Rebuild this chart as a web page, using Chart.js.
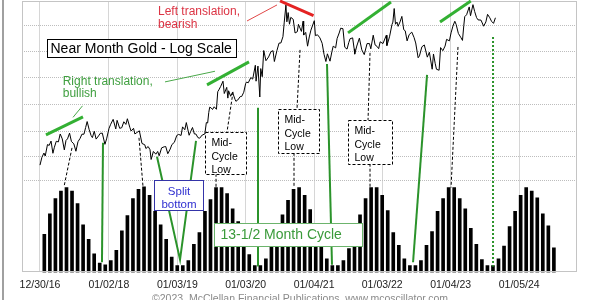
<!DOCTYPE html>
<html>
<head>
<meta charset="utf-8">
<script src="https://cdn.jsdelivr.net/npm/chart.js@4"></script>
<style>
  html, body { margin: 0; padding: 0; background: #fff; }
  #wrap { position: relative; width: 600px; height: 300px; }
  #edge { position: absolute; left: 2px; top: 0; width: 2px; height: 300px; background: #a0a0a0; }
</style>
</head>
<body>
<div id="wrap"><canvas id="chart" width="600" height="300"></canvas><div id="edge"></div></div>
<script>
// x axis ticks
const tickDates = ['2016-12-30', '2018-01-02', '2019-01-03', '2020-01-03', '2021-01-04', '2022-01-03', '2023-01-04', '2024-01-05'];
const tickLabels = ['12/30/16', '01/02/18', '01/03/19', '01/03/20', '01/04/21', '01/03/22', '01/04/23', '01/05/24'];

// near month gold
const goldDates = [
  '2016-12-30', '2017-01-09', '2017-01-20', '2017-01-27', '2017-02-08', '2017-02-17', '2017-02-27', '2017-03-09', '2017-03-17', '2017-03-27',
  '2017-04-07', '2017-04-17', '2017-04-28', '2017-05-09', '2017-05-18', '2017-05-26', '2017-06-06', '2017-06-16', '2017-06-29', '2017-07-10',
  '2017-07-21', '2017-08-01', '2017-08-11', '2017-08-22', '2017-08-31', '2017-09-08', '2017-09-19', '2017-09-29', '2017-10-06', '2017-10-16',
  '2017-10-26', '2017-11-08', '2017-11-17', '2017-11-28', '2017-12-12', '2017-12-21',
  '2018-01-03', '2018-01-12', '2018-01-25', '2018-02-08', '2018-02-15', '2018-03-01', '2018-03-12', '2018-03-23', '2018-04-03', '2018-04-11',
  '2018-04-24', '2018-05-01', '2018-05-14', '2018-05-21', '2018-06-01', '2018-06-14', '2018-06-28', '2018-07-13', '2018-07-19', '2018-07-31',
  '2018-08-10', '2018-08-16', '2018-08-28', '2018-09-10', '2018-09-20', '2018-09-28', '2018-10-11', '2018-10-25', '2018-11-02', '2018-11-13',
  '2018-11-26', '2018-12-05', '2018-12-18', '2018-12-31',
  '2019-01-10', '2019-01-23', '2019-01-31', '2019-02-12', '2019-02-20', '2019-03-07', '2019-03-15', '2019-03-25', '2019-04-04', '2019-04-12',
  '2019-04-23', '2019-05-02', '2019-05-16', '2019-05-30', '2019-06-07', '2019-06-14', '2019-06-20', '2019-06-25', '2019-07-03', '2019-07-10',
  '2019-07-19', '2019-07-31', '2019-08-07', '2019-08-13', '2019-08-23', '2019-09-04', '2019-09-11', '2019-09-24', '2019-09-30', '2019-10-04',
  '2019-10-15', '2019-10-25', '2019-11-07', '2019-11-12', '2019-11-22', '2019-12-05', '2019-12-13', '2019-12-24',
  '2020-01-03', '2020-01-08', '2020-01-17', '2020-01-31', '2020-02-10', '2020-02-24', '2020-02-28', '2020-03-09', '2020-03-19', '2020-03-24',
  '2020-04-01', '2020-04-09', '2020-04-21', '2020-05-05', '2020-05-18', '2020-05-29', '2020-06-05', '2020-06-19', '2020-06-30', '2020-07-10',
  '2020-07-21', '2020-07-28', '2020-08-06', '2020-08-11', '2020-08-18', '2020-08-25', '2020-09-01', '2020-09-14', '2020-09-24', '2020-10-06',
  '2020-10-12', '2020-10-28', '2020-11-06', '2020-11-09', '2020-11-20', '2020-11-30', '2020-12-09', '2020-12-18',
  '2021-01-05', '2021-01-11', '2021-01-22', '2021-02-04', '2021-02-16', '2021-02-26', '2021-03-08', '2021-03-16', '2021-03-30', '2021-04-09',
  '2021-04-16', '2021-04-29', '2021-05-07', '2021-05-18', '2021-05-26', '2021-06-07', '2021-06-17', '2021-06-29', '2021-07-08', '2021-07-15',
  '2021-07-29', '2021-08-06', '2021-08-09', '2021-08-20', '2021-09-03', '2021-09-16', '2021-09-29', '2021-10-14', '2021-10-27', '2021-11-03',
  '2021-11-16', '2021-11-26', '2021-12-06', '2021-12-15', '2021-12-23',
  '2022-01-07', '2022-01-25', '2022-01-28', '2022-02-11', '2022-02-24', '2022-03-01', '2022-03-08', '2022-03-15', '2022-03-23', '2022-03-29',
  '2022-04-08', '2022-04-18', '2022-04-28', '2022-05-06', '2022-05-16', '2022-05-27', '2022-06-10', '2022-06-22', '2022-07-01', '2022-07-14',
  '2022-07-21', '2022-08-03', '2022-08-16', '2022-09-01', '2022-09-12', '2022-09-27', '2022-10-04', '2022-10-13', '2022-10-20', '2022-11-03',
  '2022-11-11', '2022-11-23', '2022-12-05', '2022-12-13', '2022-12-28',
  '2023-01-06', '2023-01-16', '2023-01-26', '2023-02-02', '2023-02-14', '2023-02-28', '2023-03-08', '2023-03-15', '2023-03-20', '2023-03-30',
  '2023-04-13', '2023-04-20', '2023-05-03', '2023-05-12', '2023-05-22', '2023-05-30', '2023-06-15', '2023-06-29', '2023-07-11', '2023-07-20',
  '2023-08-01', '2023-08-10', '2023-08-21', '2023-08-31'
];
const goldPrices = [
  1152, 1185, 1204, 1191, 1242, 1238, 1258, 1203, 1230, 1257,
  1254, 1291, 1268, 1218, 1261, 1268, 1295, 1256, 1245, 1212,
  1255, 1270, 1290, 1290, 1322, 1351, 1311, 1284, 1274, 1304,
  1267, 1282, 1294, 1295, 1243, 1268,
  1318, 1338, 1362, 1315, 1357, 1318, 1321, 1350, 1337, 1365,
  1323, 1305, 1318, 1291, 1298, 1306, 1247, 1241, 1224, 1233,
  1219, 1176, 1211, 1199, 1211, 1192, 1227, 1232, 1233, 1201,
  1222, 1242, 1252, 1284,
  1289, 1284, 1325, 1311, 1346, 1285, 1302, 1322, 1291, 1291,
  1274, 1271, 1286, 1291, 1346, 1344, 1397, 1424, 1420, 1412,
  1426, 1413, 1507, 1517, 1537, 1566, 1497, 1531, 1472, 1512,
  1482, 1504, 1466, 1455, 1462, 1480, 1481, 1504,
  1552, 1561, 1557, 1587, 1578, 1660, 1566, 1655, 1478, 1640,
  1592, 1752, 1688, 1711, 1745, 1751, 1683, 1753, 1800, 1801,
  1843, 1944, 2069, 1946, 2013, 1929, 1978, 1964, 1868, 1877,
  1928, 1879, 1951, 1854, 1872, 1780, 1841, 1888,
  1954, 1850, 1856, 1835, 1799, 1728, 1683, 1731, 1685, 1744,
  1780, 1769, 1831, 1868, 1901, 1898, 1773, 1761, 1803, 1829,
  1835, 1763, 1729, 1781, 1833, 1756, 1726, 1797, 1797, 1763,
  1853, 1788, 1779, 1764, 1809,
  1797, 1853, 1784, 1842, 1926, 1944, 2043, 1929, 1944, 1914,
  1945, 1985, 1891, 1883, 1815, 1857, 1874, 1838, 1801, 1706,
  1718, 1776, 1788, 1710, 1741, 1636, 1730, 1672, 1636, 1630,
  1771, 1751, 1781, 1825, 1815,
  1869, 1916, 1950, 1928, 1865, 1836, 1818, 1919, 1983, 1997,
  2055, 1990, 2072, 2021, 1977, 1960, 1958, 1915, 1945, 2000,
  1975, 1950, 1935, 1975
];

// 13-1/2 month cycle bars, one per month
const cycleStart = 2017.058;
const cycleStep = 0.0811;
const cycleValues = [
  45, 69, 87, 96, 100, 96, 81, 56, 39, 22, 11, 9, 14, 26, 49, 67, 87, 98, 101, 91,
  72, 56, 39, 18, 8, 8, 14, 33, 47, 72, 86, 100, 100, 93, 75, 60, 40, 21, 8, 8,
  16, 31, 49, 68, 85, 98, 100, 91, 74, 58, 38, 16, 8, 8, 14, 28, 47, 68, 87, 100,
  100, 91, 73, 47, 32, 16, 8, 8, 14, 32, 48, 72, 87, 100, 100, 87, 75, 52, 33, 15,
  8, 8, 16, 31, 54, 72, 91, 100, 96, 88, 69, 55, 29
];

// horizontal grid lines of the log price panel
const priceGrid = [1088, 1190, 1305, 1440, 1585, 1745, 1918];

// annotations: [year, price] or [year, null, cycle value]
const trendLines = [
  [[2017.082, 1287], [2017.624, 1374]],
  [[2019.440, 1545], [2020.055, 1681]],
  [[2021.505, 1869], [2022.134, 2093]],
  [[2022.852, 1945], [2023.302, 2100]]
];
const bearLine = [[2020.509, 2100], [2021.000, 1990]];
const cycleLows = [
  [[2017.917, 1250], [2017.902, null, 12]],
  [[2018.708, 1188], [2019.045, null, 15], [2019.279, 1259]],
  [[2020.187, 1421], [2020.187, null, 7]],
  [[2021.197, 1668], [2021.270, null, 9]],
  [[2022.662, 1603], [2022.457, null, 12]]
];
const nextLow = [[2023.628, 1841], [2023.628, null, 7]];
const midLines = [
  [[2017.463, 1227], [2017.346, null, 101]],
  [[2018.444, 1273], [2018.503, null, 101]],
  [[2019.821, 1506], [2019.733, 1301]], [[2019.572, 1116], [2019.572, null, 100]],
  [[2020.802, 1756], [2020.758, 1415]], [[2020.714, 1205], [2020.714, null, 100]],
  [[2021.827, 1737], [2021.798, 1359]], [[2021.827, 1158], [2021.827, null, 100]],
  [[2023.115, 1775], [2023.013, null, 100]]
];
const midBoxes = [
  [[2019.411, 1301], [2020.011, 1116]],
  [[2020.480, 1415], [2021.080, 1205]],
  [[2021.505, 1359], [2022.149, 1158]]
];
const redPointer = [[2020.026, 1952], [2020.465, 2070]];
const greenPointers = [
  [[2017.478, 1372], [2017.617, 1431]],
  [[2018.825, 1562], [2019.557, 1624]]
];
const titleBox = [[2017.097, 1828], [2019.865, 1711]];
const splitBox = [[2018.664, null, 109], [2019.381, null, 73]];
const cycleBox = [[2019.542, null, 58], [2021.710, null, 31]];
const leftNote = [2018.722, 2021];
const rightNote = [2017.327, 1562];

const FONT = "'Liberation Sans', Arial, sans-serif";

function toYear(s) {
  const [y, m, d] = s.split('-').map(Number);
  const a = Date.UTC(y, 0, 1), b = Date.UTC(y + 1, 0, 1);
  return y + (Date.UTC(y, m - 1, d) - a) / (b - a);
}

const tickYears = tickDates.map(toYear);
const goldPoints = goldDates.map((d, i) => ({ x: toYear(d), y: goldPrices[i] }));
const cyclePoints = cycleValues.map((v, i) => ({ x: cycleStart + i * cycleStep, y: v }));

const notes = {
  id: 'notes',
  afterDatasetsDraw(chart) {
    const { ctx, chartArea: area, scales } = chart;
    const P = (pt) => [scales.x.getPixelForValue(pt[0]), pt.length > 2 ? scales.y2.getPixelForValue(pt[2]) : scales.y.getPixelForValue(pt[1])];
    const path = (pts, color, width, dash) => {
      ctx.save();
      ctx.strokeStyle = color; ctx.lineWidth = width; ctx.setLineDash(dash || []);
      ctx.beginPath();
      pts.forEach((p, i) => { const [x, y] = P(p); i ? ctx.lineTo(x, y) : ctx.moveTo(x, y); });
      ctx.stroke();
      ctx.restore();
    };
    const box = (b, stroke, dash) => {
      const [x1, y1] = P(b[0]), [x2, y2] = P(b[1]);
      const l = Math.round(x1) + 0.5, t = Math.round(y1) + 0.5, r = Math.round(x2) + 0.5, bt = Math.round(y2) + 0.5;
      ctx.save();
      ctx.fillStyle = '#fff'; ctx.fillRect(l, t, r - l, bt - t);
      ctx.strokeStyle = stroke; ctx.lineWidth = 1; ctx.setLineDash(dash || []);
      ctx.strokeRect(l, t, r - l, bt - t);
      ctx.restore();
      return { l, t, r, b: bt };
    };
    const text = (str, x, y, color, size, align) => {
      ctx.save();
      ctx.fillStyle = color; ctx.font = size + 'px ' + FONT;
      ctx.textAlign = align || 'left'; ctx.textBaseline = 'middle';
      ctx.fillText(str, x, y);
      ctx.restore();
    };

    // frame of the plot
    ctx.save();
    ctx.strokeStyle = '#c4c4c4'; ctx.lineWidth = 1;
    ctx.strokeRect(Math.round(area.left) + 0.5, Math.round(area.top) + 0.5, Math.round(area.right - area.left), Math.round(area.bottom - area.top) - 1);
    ctx.restore();

    cycleLows.forEach((l) => path(l, '#2b932b', 2));
    path(nextLow, '#2b932b', 2, [2, 2]);
    midLines.forEach((l) => path(l, '#000', 1, [3, 2]));
    trendLines.forEach((l) => path(l, '#33b033', 3));
    path(bearLine, '#e42222', 3);
    path(redPointer, '#e04848', 1);
    greenPointers.forEach((l) => path(l, '#4aa84a', 1));

    const t = box(titleBox, '#000');
    text('Near Month Gold - Log Scale', t.l + 3, (t.t + t.b) / 2 + 0.5, '#000', 14);

    midBoxes.forEach((b) => {
      const m = box(b, '#000', [3, 2]);
      text('Mid-', m.l + 6, m.t + 11, '#000', 10.5);
      text('Cycle', m.l + 6, m.t + 24.5, '#000', 10.5);
      text('Low', m.l + 6, m.t + 37.5, '#000', 10.5);
    });

    const s = box(splitBox, '#3434a8');
    text('Split', (s.l + s.r) / 2, s.t + 11, '#2f2fd0', 11.5, 'center');
    text('bottom', (s.l + s.r) / 2, s.t + 24, '#2f2fd0', 11.5, 'center');

    const c = box(cycleBox, '#6cb46c');
    text('13-1/2 Month Cycle', c.l + 6, (c.t + c.b) / 2 + 0.5, '#3a9a3a', 14);

    const [lx, ly] = P(leftNote);
    text('Left translation,', lx, ly, '#dc3444', 12);
    text('bearish', lx, ly + 13, '#dc3444', 12);
    const [rx, ry] = P(rightNote);
    text('Right translation,', rx, ry, '#3f9f3f', 12);
    text('bullish', rx, ry + 12, '#3f9f3f', 12);

    ctx.save();
    ctx.fillStyle = '#8a8a8a'; ctx.font = '10.5px ' + FONT;
    ctx.textAlign = 'center'; ctx.textBaseline = 'alphabetic';
    ctx.fillText('\u00a92023, McClellan Financial Publications, www.mcoscillator.com', 300, 302);
    ctx.restore();
  }
};

new Chart(document.getElementById('chart'), {
  type: 'bar',
  data: {
    datasets: [
      { type: 'line', data: goldPoints, yAxisID: 'y', borderColor: '#000', borderWidth: 1, pointRadius: 0, tension: 0, order: 1 },
      { type: 'bar', data: cyclePoints, yAxisID: 'y2', backgroundColor: '#000', barThickness: 3, order: 2 }
    ]
  },
  options: {
    responsive: false,
    animation: false,
    events: [],
    layout: { padding: { left: 22, right: 24, top: 1, bottom: 3 } },
    plugins: { legend: { display: false }, tooltip: { enabled: false } },
    scales: {
      x: {
        type: 'linear', offset: false, min: 2016.731, max: 2024.843,
        afterBuildTicks: (axis) => { axis.ticks = tickYears.map((v) => ({ value: v })); },
        ticks: { autoSkip: false, maxRotation: 0, padding: 6, color: '#222', font: { family: FONT, size: 10.5 }, callback: (v, i) => tickLabels[i] },
        grid: { color: '#d6d6d6', drawTicks: false, offset: false },
        border: { display: false }
      },
      y: {
        type: 'logarithmic', min: 778, max: 2100,
        afterBuildTicks: (axis) => { axis.ticks = priceGrid.map((v) => ({ value: v })); },
        ticks: { display: false },
        grid: { color: '#bdbdbd', drawTicks: false },
        border: { display: false, dash: [1, 1] }
      },
      y2: { type: 'linear', display: false, min: 0, max: 320 }
    }
  },
  plugins: [notes]
});
</script>
</body>
</html>
